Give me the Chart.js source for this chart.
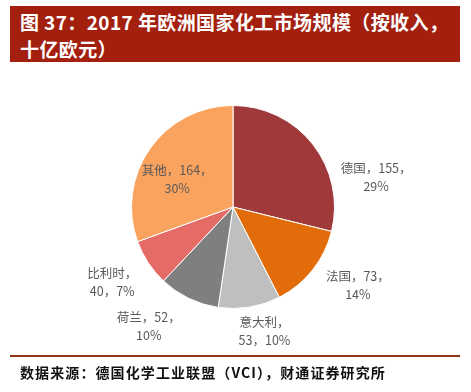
<!DOCTYPE html>
<html>
<head>
<meta charset="utf-8">
<script src="https://cdn.jsdelivr.net/npm/chart.js@4/dist/chart.umd.min.js"></script>
<style>
  html, body { margin: 0; padding: 0; background: #fff; }
  #wrap { position: relative; width: 471px; height: 392px; overflow: hidden; }
  #title {
    position: absolute; left: 10px; top: 6px; width: 450px; height: 56px;
    padding-left: 10px; padding-top: 2px; background: #A3200F; color: #fff;
    font-family: "Noto Sans CJK SC", sans-serif; font-weight: 700;
    font-size: 19px; line-height: 27px; letter-spacing: 0.4px; box-sizing: border-box;
  }
  #rule { position: absolute; left: 10px; top: 355px; width: 450px; height: 2px; background: #8E3516; }
  #source {
    position: absolute; left: 20px; top: 362px; letter-spacing: 1.1px;
    font-family: "Noto Sans CJK SC", sans-serif; font-weight: 700; font-size: 14px; color: #111;
  }
  canvas { position: absolute; left: 0; top: 0; }
</style>
</head>
<body>
<div id="wrap">
  <div id="title">图 37：2017 年欧洲国家化工市场规模（按收入，<br>十亿欧元）</div>
  <canvas id="pie" width="471" height="392"></canvas>
  <div id="rule"></div>
  <div id="source">数据来源：德国化学工业联盟（VCI），财通证券研究所</div>
</div>
<script>
// data
var countries = ["德国", "法国", "意大利", "荷兰", "比利时", "其他"]
var values = [155, 73, 53, 52, 40, 164]
var shares = ["29%", "14%", "10%", "10%", "7%", "30%"]
var colors = ["#A0393A", "#E36C0A", "#BFBFBF", "#7F7F7F", "#E46B66", "#F9A35F"]

// label text lines per slice
var labelLines = [
  [countries[0] + "，" + values[0] + "，", shares[0]],
  [countries[1] + "，" + values[1] + "，", shares[1]],
  [countries[2] + "，", values[2] + "，" + shares[2]],
  [countries[3] + "，" + values[3] + "，", shares[3]],
  [countries[4] + "，", values[4] + "，" + shares[4]],
  [countries[5] + "，" + values[5] + "，", shares[5]]
]
// where each label block sits, relative to the pie centre, in radius units
var labelOffsets = [[1.41, -0.29], [1.23, 0.77], [0.31, 1.22], [-0.83, 1.17], [-1.19, 0.74], [-0.55, -0.27]]

var labelPlugin = {
  id: "sliceLabels",
  afterDatasetsDraw: function(chart) {
    var ctx = chart.ctx
    var arcs = chart.getDatasetMeta(0).data
    ctx.save()
    ctx.font = "12.5px 'Noto Sans CJK SC', sans-serif"
    ctx.fillStyle = "#595959"
    ctx.textAlign = "center"
    ctx.textBaseline = "middle"
    for (var i = 0; i < arcs.length; i++) {
      var a = arcs[i]
      var cx = a.x + labelOffsets[i][0] * a.outerRadius
      var cy = a.y + labelOffsets[i][1] * a.outerRadius
      var lines = labelLines[i]
      for (var j = 0; j < lines.length; j++) {
        ctx.fillText(lines[j], cx, cy + (j - (lines.length - 1) / 2) * 18)
      }
    }
    ctx.restore()
  }
}

new Chart(document.getElementById("pie"), {
  type: "pie",
  data: {
    labels: countries,
    datasets: [{
      data: values,
      backgroundColor: colors,
      borderColor: "#ffffff",
      borderWidth: 1
    }]
  },
  options: {
    responsive: false,
    animation: false,
    layout: { padding: { left: 131, right: 136, top: 105, bottom: 83 } },
    plugins: {
      legend: { display: false },
      tooltip: { enabled: false }
    }
  },
  plugins: [labelPlugin]
})
</script>
</body>
</html>
